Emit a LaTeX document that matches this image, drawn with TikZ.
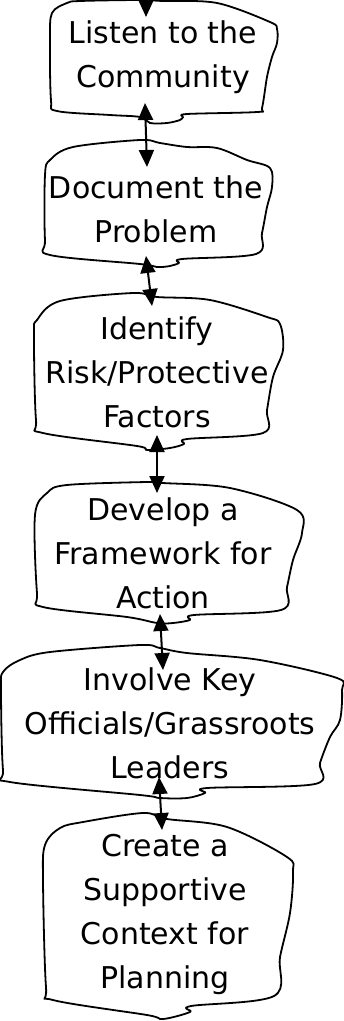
\documentclass[tikz,border=0pt]{standalone}
\usepackage{fontspec}
\setmainfont{DejaVu Sans}
\usetikzlibrary{arrows.meta}
\tikzset{
  blob/.style={draw=black, line width=1.8pt, line join=round, fill=white},
  lbl/.style={font=\fontsize{30}{44}\selectfont, align=center, inner sep=0pt},
  biarrow/.style={line width=2pt, {Triangle[length=17pt,width=15pt]}-{Triangle[length=17pt,width=15pt]}},
  downarrow/.style={line width=2pt, -{Triangle[length=17pt,width=15pt]}}
}
\begin{document}
\begin{tikzpicture}[x=1pt,y=-1pt]
\useasboundingbox (0,0) rectangle (344,1021);
% box outlines
\draw[blob] plot[smooth cycle, tension=0.55] coordinates {(50,40) (52,13) (67,3) (80,1) (140,0) (163,1) (217,3) (270,22) (277,29) (277,43) (272,57) (267,77) (262,108) (257,112) (187,114) (183,117) (180,120) (167,123) (150,123) (140,117) (110,115) (57,111) (51,100)};
\draw[blob] plot[smooth cycle, tension=0.55] coordinates {(45,175) (50,160) (73,147) (140,140) (160,143) (187,147) (217,148) (247,160) (270,168) (272,187) (267,207) (262,233) (256,254) (182,259) (179,263) (170,266) (157,267) (140,264) (50,255) (45,240)};
\draw[blob] plot[smooth cycle, tension=0.55] coordinates {(34,335) (37,320) (60,301) (133,293) (157,297) (210,300) (267,317) (280,324) (283,350) (273,377) (267,410) (263,433) (187,439) (184,444) (170,448) (147,450) (137,446) (43,433) (36,420)};
\draw[blob] plot[smooth cycle, tension=0.55] coordinates {(35,515) (47,493) (67,485) (147,482) (163,483) (230,488) (297,510) (302,533) (293,560) (287,587) (281,610) (194,615) (190,620) (173,623) (157,623) (127,617) (43,607) (37,593)};
\draw[blob] plot[smooth cycle, tension=0.55] coordinates {(1,690) (3,672) (20,660) (50,652) (140,645) (160,648) (187,653) (260,660) (337,678) (342,690) (340,720) (330,737) (320,763) (315,784) (207,788) (205,793) (187,798) (160,798) (140,795) (10,782) (3,770)};
\draw[blob] plot[smooth cycle, tension=0.55] coordinates {(43,880) (45,845) (60,828) (83,822) (143,813) (167,819) (227,827) (287,857) (293,872) (290,913) (280,957) (274,996) (191,1006) (190,1012) (163,1019) (147,1015) (53,1000) (46,987)};
% labels
\node[lbl] (b1) at (163,57) {Listen to the\\Community};
\node[lbl] (b2) at (156,209) {Document the\\Problem};
\node[lbl] (b3) at (157,372) {Identify\\Risk/Protective\\Factors};
\node[lbl] (b4) at (163,553) {Develop a\\Framework for\\Action};
\node[lbl] (b5) at (170,723) {Involve Key\\Officials/Grassroots\\Leaders};
\node[lbl] (b6) at (165,914) {Create a\\Supportive\\Context for\\Planning};
% connector ends
\coordinate (top) at (146,-3);
\coordinate (t1) at (146,17);
\coordinate (s1) at (145,103);
\coordinate (t2) at (147,167);
\coordinate (s2) at (146,256);
\coordinate (t3) at (152,306);
\coordinate (s3) at (157,435);
\coordinate (t4) at (157,493);
\coordinate (s4) at (160,614);
\coordinate (t5) at (163,670);
\coordinate (s5) at (159,777);
\coordinate (t6) at (162,830);
\draw[downarrow] (top) -- (t1);
\draw[biarrow] (s1) -- (t2);
\draw[biarrow] (s2) -- (t3);
\draw[biarrow] (s3) -- (t4);
\draw[biarrow] (s4) -- (t5);
\draw[biarrow] (s5) -- (t6);
\end{tikzpicture}
\end{document}
